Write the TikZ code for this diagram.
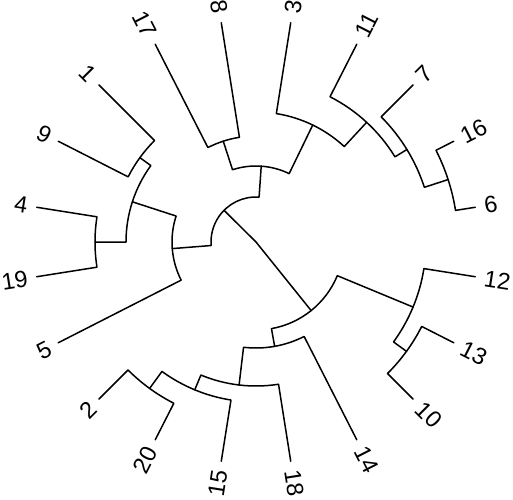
\documentclass[tikz,border=0pt]{standalone}
\usepackage{fontspec}
\setmainfont{Liberation Sans}
\usetikzlibrary{calc}

\begin{document}
\begin{tikzpicture}[x=1pt,y=1pt,line width=1.5pt,line cap=round,line join=round,
    leaf/.style={font=\fontsize{23.5}{23.5}\selectfont,inner xsep=8.5pt,inner ysep=0pt}]
  \useasboundingbox (0,0) rectangle (513,499);
  \begin{scope}[shift={(256,257)}]
    \coordinate (root) at (0,0);
    % tips and their labels
    \foreach \a/\t in {9/6,27/16,45/7,63/11,81/3,279/18,297/14,315/10,333/13,351/12}{
      \coordinate (t\t) at (\a:222pt);
      \node[leaf,anchor=west,rotate=\a] (l\t) at (t\t) {\t};
    }
    \foreach \a/\t in {99/8,117/17,135/1,153/9,171/4,189/19,207/5,225/2,243/20,261/15}{
      \coordinate (t\t) at (\a:222pt);
      \node[leaf,anchor=east,rotate=\a-180] (l\t) at (t\t) {\t};
    }
    % upper clade
    \draw (t6) -- (9:202pt) arc[start angle=9,end angle=27,radius=202pt] -- (t16);
    \coordinate (nA) at (18:202pt);
    \draw (nA) -- (18:177pt) arc[start angle=18,end angle=45,radius=177pt] -- (t7);
    \coordinate (nB) at (31.5:177pt);
    \draw (nB) -- (31.5:163pt) arc[start angle=31.5,end angle=63,radius=163pt] -- (t11);
    \coordinate (nC) at (47.25:163pt);
    \draw (nC) -- (47.25:130pt) arc[start angle=47.25,end angle=81,radius=130pt] -- (t3);
    \coordinate (nD) at (64.125:130pt);
    \draw (t8) -- (99:106pt) arc[start angle=99,end angle=117,radius=106pt] -- (t17);
    \coordinate (nE) at (108:106pt);
    \draw (nD) -- (64.125:76pt) arc[start angle=64.125,end angle=108,radius=76pt] -- (nE);
    \coordinate (nF) at (86.06:76pt);
    % left clade
    \draw (t1) -- (135:143.5pt) arc[start angle=135,end angle=153,radius=143.5pt] -- (t9);
    \coordinate (nG) at (144:143.5pt);
    \draw (t4) -- (171:161pt) arc[start angle=171,end angle=189,radius=161pt] -- (t19);
    \coordinate (nH) at (180:161pt);
    \draw (nG) -- (144:130pt) arc[start angle=144,end angle=180,radius=130pt] -- (nH);
    \coordinate (nI) at (162:130pt);
    \draw (nI) -- (162:84pt) arc[start angle=162,end angle=207,radius=84pt] -- (t5);
    \coordinate (nJ) at (184.5:84pt);
    \draw (nF) -- (86.06:45pt) arc[start angle=86.06,end angle=184.5,radius=45pt] -- (nJ);
    \coordinate (nK) at (135.28:45pt);
    % lower clade
    \draw (t2) -- (225:181pt) arc[start angle=225,end angle=243,radius=181pt] -- (t20);
    \coordinate (nL) at (234:181pt);
    \draw (nL) -- (234:160pt) arc[start angle=234,end angle=261,radius=160pt] -- (t15);
    \coordinate (nM) at (247.5:160pt);
    \draw (nM) -- (247.5:144pt) arc[start angle=247.5,end angle=279,radius=144pt] -- (t18);
    \coordinate (nN) at (263.25:144pt);
    \draw (nN) -- (263.25:106pt) arc[start angle=263.25,end angle=297,radius=106pt] -- (t14);
    \coordinate (nO) at (280.125:106pt);
    \draw (t10) -- (315:186pt) arc[start angle=315,end angle=333,radius=186pt] -- (t13);
    \coordinate (nP) at (324:186pt);
    \draw (nP) -- (324:170pt) arc[start angle=324,end angle=351,radius=170pt] -- (t12);
    \coordinate (nQ) at (337.5:170pt);
    \draw (nO) -- (280.125:88pt) arc[start angle=280.125,end angle=337.5,radius=88pt] -- (nQ);
    \coordinate (nS) at (308.81:88pt);
    % root
    \draw (nK) -- (root) -- (nS);
  \end{scope}
\end{tikzpicture}
\end{document}
